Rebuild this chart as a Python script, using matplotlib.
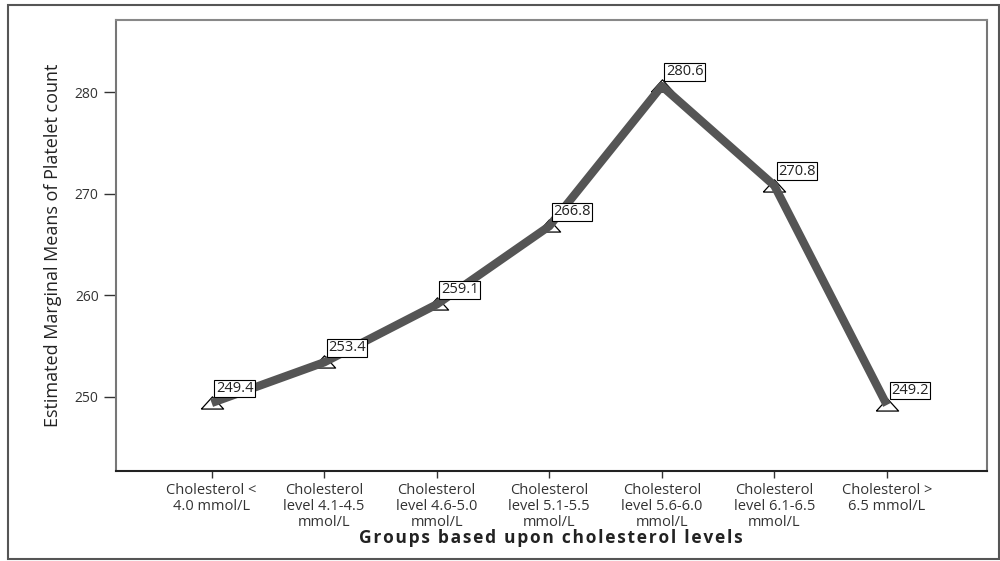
import matplotlib
matplotlib.use('Agg')
import matplotlib.pyplot as plt
from matplotlib.patches import Rectangle

plt.rcParams['font.family'] = ['Open Sans', 'DejaVu Sans']

groups = ["Cholesterol <\n4.0 mmol/L",
          "Cholesterol\nlevel 4.1-4.5\nmmol/L",
          "Cholesterol\nlevel 4.6-5.0\nmmol/L",
          "Cholesterol\nlevel 5.1-5.5\nmmol/L",
          "Cholesterol\nlevel 5.6-6.0\nmmol/L",
          "Cholesterol\nlevel 6.1-6.5\nmmol/L",
          "Cholesterol >\n6.5 mmol/L"]
means = [249.4, 253.4, 259.1, 266.8, 280.6, 270.8, 249.2]
yticks = [250, 260, 270, 280]
xtitle = "Groups based upon cholesterol levels"

fig = plt.figure(figsize=(10, 5.61), dpi=100)
ax = fig.add_axes([0.116, 1 - 471/561, 0.871, (471 - 20)/561])

# outer frame of the picture
fig.patches.append(Rectangle((8/1000, 1 - 559/561), 991/1000, 554/561,
                             transform=fig.transFigure, fill=False,
                             edgecolor='#555555', lw=1.5))

# flat, wide triangle like the spss marker
tri = [(-1.0, -0.5), (1.0, -0.5), (0.0, 0.6), (-1.0, -0.5)]

x = list(range(len(groups)))
ax.plot(x, means, color='#555555', lw=6, solid_capstyle='butt', zorder=2)
ax.plot(x, means, ls='none', marker=tri, markersize=16, markerfacecolor='white',
        markeredgecolor='black', markeredgewidth=0.9, zorder=1)

for xi, m in zip(x, means):
    ax.annotate(f"{m:.1f}", (xi, m), xytext=(3, 5), textcoords='offset points',
                ha='left', va='bottom', fontsize=10.5, color='#222222',
                bbox=dict(boxstyle='square,pad=0.1', fc='white', ec='black', lw=0.8),
                zorder=3)

ax.set_xlim(-0.85, 6.89)
ax.set_ylim(242.7, 287.1)
ax.set_xticks(x)
ax.set_xticklabels(groups, fontsize=10.5, color='#222222', linespacing=1.1)
ax.set_yticks(yticks)
ax.tick_params(axis='y', labelsize=10, colors='#333333', length=9, width=1)
ax.tick_params(axis='x', length=5, width=1, colors='#333333')
for s in ax.spines.values():
    s.set_color('#777777')
    s.set_linewidth(1.5)
ax.spines['bottom'].set_color('#222222')
ax.spines['top'].set_color('#888888')

ax.set_ylabel("Estimated Marginal Means of Platelet count", fontsize=13,
              color='#222222', labelpad=9)
# spss spreads the letters of the axis title a little
spaced = "\u200a".join(xtitle)
fig.text(0.551, 1 - 538/561, spaced, ha='center', va='center', fontsize=12.5,
         fontweight='bold', color='#222222', family=['Open Sans', 'DejaVu Sans'])

fig.savefig("out.png", dpi=100)
